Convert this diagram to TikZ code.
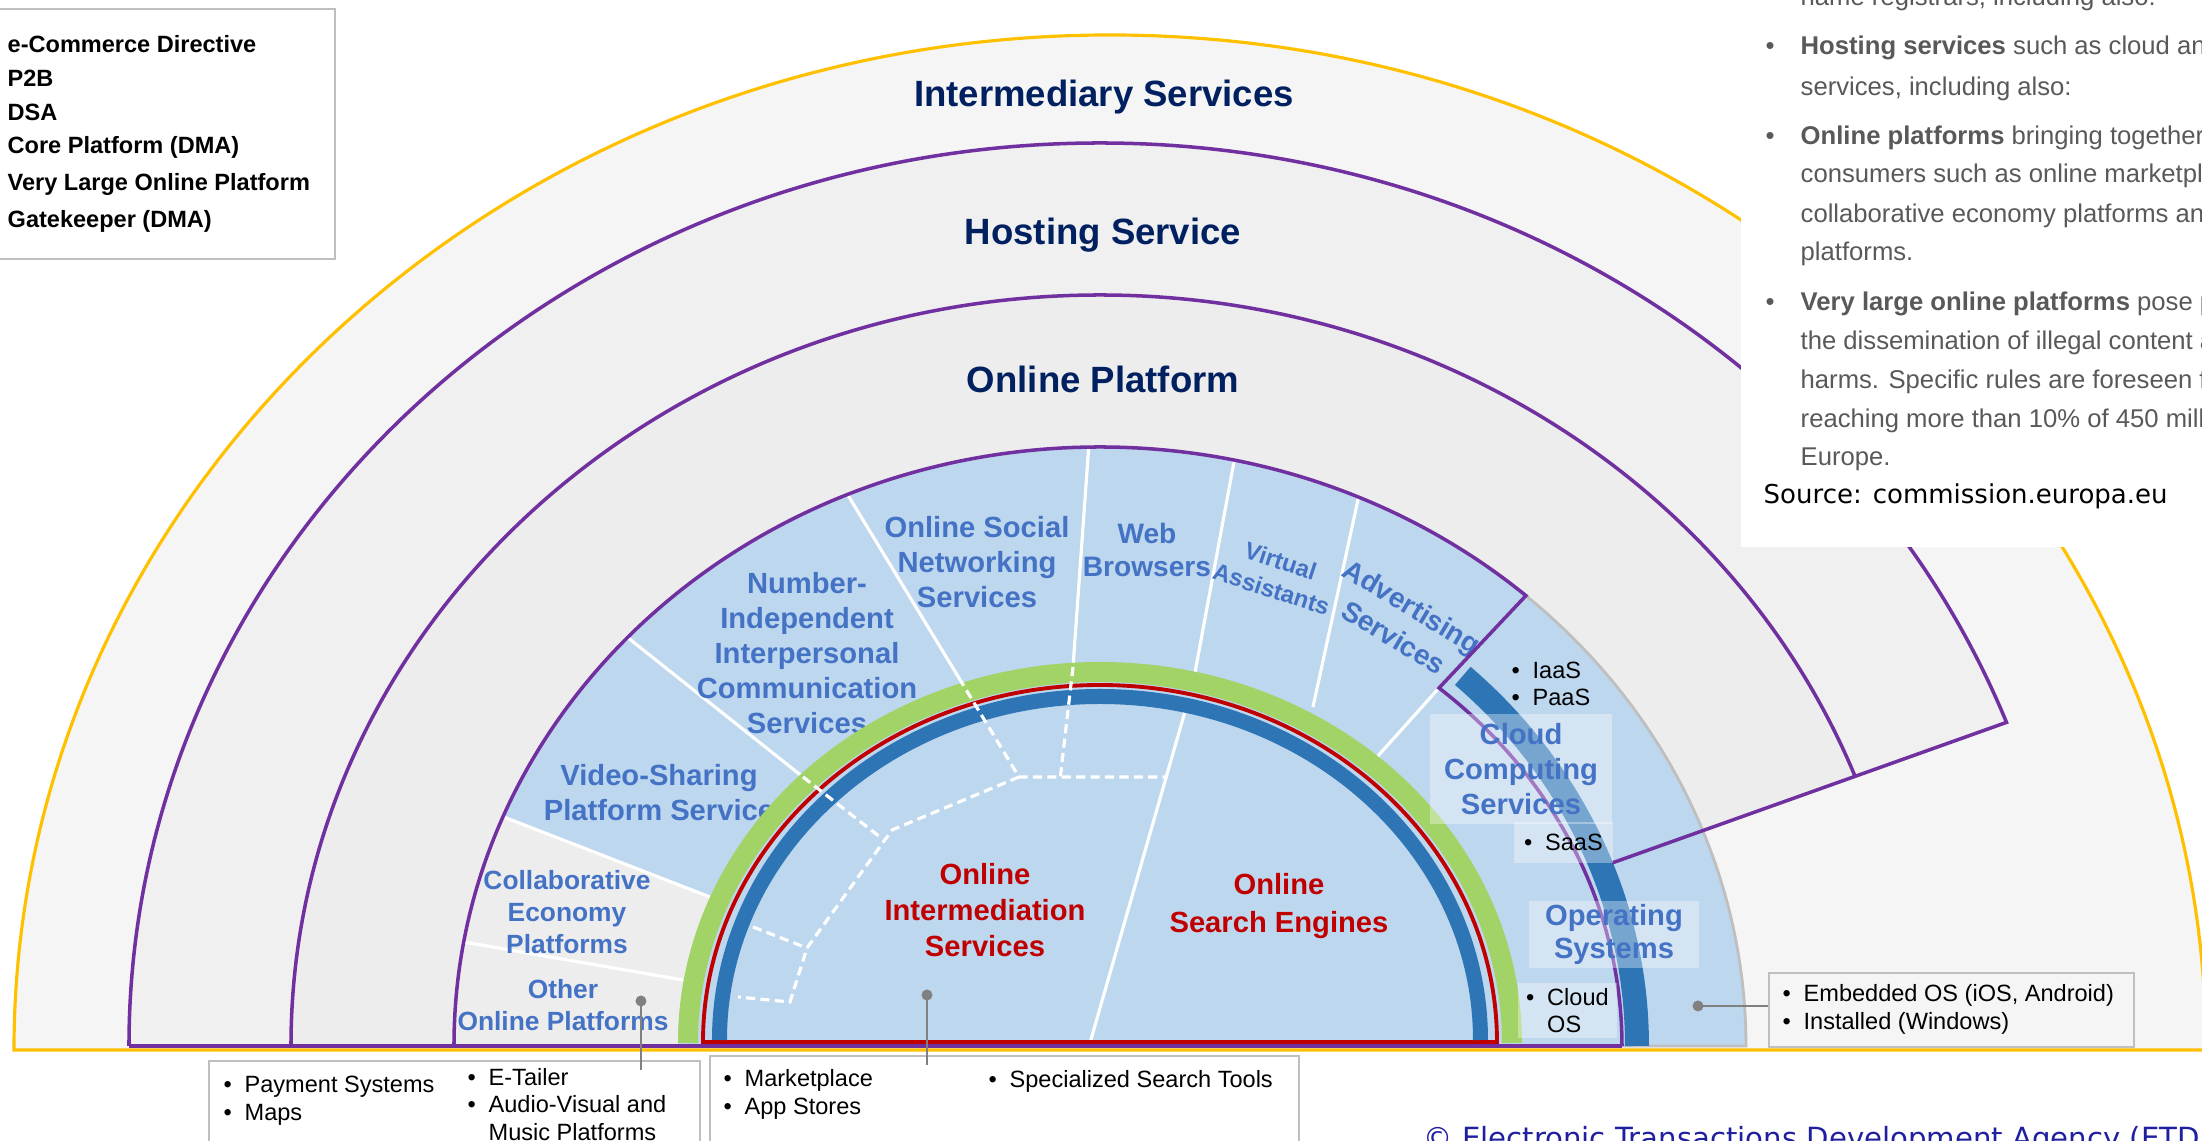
\documentclass[tikz,border=0pt]{standalone}
\usepackage{fontspec}
\setmainfont{Liberation Sans}
\newfontfamily\srcfont{DejaVu Sans}
\usetikzlibrary{positioning}

\definecolor{gold}{HTML}{FFC000}
\definecolor{dsapurple}{HTML}{7030A0}
\definecolor{p2bred}{HTML}{C00000}
\definecolor{coreblue}{HTML}{2E75B6}
\definecolor{gkgreen}{HTML}{A2D366}
\definecolor{skyfill}{HTML}{BDD7EE}
\definecolor{lblblue}{HTML}{4472C4}
\definecolor{navy}{HTML}{002060}
\definecolor{bandone}{HTML}{F5F5F5}
\definecolor{bandtwo}{HTML}{F0F0F0}
\definecolor{bandthree}{HTML}{EDEDED}
\definecolor{rimgrey}{HTML}{BFBFBF}
\definecolor{pingrey}{HTML}{808080}
\definecolor{txtgrey}{HTML}{595959}
\definecolor{etdablue}{HTML}{1F1FA0}

\newcommand{\bul}{\makebox[2.1mm][l]{\textbullet}}
\newcommand{\qbul}{\makebox[3.5mm][l]{\textbullet}}

\tikzset{
	head/.style={text=navy,font=\fontsize{10.4}{12}\selectfont\bfseries,inner sep=0,anchor=base},
	sector/.style={text=lblblue,font=\fontsize{8.3}{10}\selectfont\bfseries,align=center,inner sep=0},
	sectorsmall/.style={text=lblblue,font=\fontsize{7.5}{9}\selectfont\bfseries,align=center,inner sep=0},
	core/.style={text=p2bred,font=\fontsize{8.3}{10.2}\selectfont\bfseries,align=center,inner sep=0},
	sepline/.style={white,line width=0.9pt},
	dashsep/.style={white,line width=0.9pt,dash pattern=on 2.6pt off 1.5pt},
	glass/.style={fill=white,fill opacity=0.35,text opacity=1,inner sep=0},
	item/.style={font=\fontsize{6.7}{7.9}\selectfont,align=left,inner sep=0},
	listbox/.style={draw=rimgrey,fill=white,line width=0.6pt,inner sep=0,anchor=north west},
	pin/.style={circle,fill=pingrey,inner sep=0,minimum size=1.1mm},
	pinline/.style={pingrey,line width=0.7pt},
	legend/.style={font=\fontsize{6.7}{10}\selectfont\bfseries,inner sep=0,anchor=west},
	quote/.style={text=txtgrey,font=\fontsize{7.3}{11}\selectfont,inner sep=0,anchor=west},
}

\begin{document}
\begin{tikzpicture}
	\useasboundingbox (-11.00,-0.95) rectangle (11.02,10.46);
	% bands
	\fill[bandone] (-10.86,-0.04) arc[start angle=180,end angle=0,x radius=10.96,y radius=10.15] -- cycle;
	\draw[gold,line width=0.9pt] (-10.86,-0.04) arc[start angle=180,end angle=0,x radius=10.96,y radius=10.15] -- cycle;
	\fill[bandtwo] (-9.71,0) arc[start angle=180,end angle=21,x radius=9.71,y radius=9.03] -- (5.12,1.83) -- (5.49,0) -- cycle;
	\fill[bandthree] (-8.09,0) arc[start angle=180,end angle=21,x radius=8.09,y radius=7.51] -- (5.12,1.83) -- (5.49,0) -- cycle;
	\fill[skyfill] (-6.46,0) arc[start angle=180,end angle=0,x radius=6.46,y radius=5.99] -- cycle;
	\fill[bandthree] (-6.46,0) arc[start angle=180,end angle=157.5,x radius=6.46,y radius=5.99] -- (-3.90,1.49) -- (-3.90,0) -- cycle;

	\node[head] (inter) at (0.04,9.39) {Intermediary Services};
	\node[head] (host) at (0.03,8.01) {Hosting Service};
	\node[head] (platf) at (0.03,6.535) {Online Platform};

	% sector borders
	\draw[sepline] (170:6.46 and 5.99) -- (-4.17,0.66);
	\draw[sepline] (157.5:6.46 and 5.99) -- (-3.90,1.49);
	\draw[sepline] (137:6.46 and 5.99) -- (-2.97,2.69);
	\draw[sepline] (113:6.46 and 5.99) -- (-1.41,3.68);
	\draw[sepline] (91:6.46 and 5.99) -- (-0.27,3.79);
	\draw[sepline] (78:6.46 and 5.99) -- (0.94,3.68);
	\draw[sepline] (66.4:6.46 and 5.99) -- (2.13,3.39);
	\draw[sepline] (3.39,3.58) -- (2.77,2.89);

	\node[sectorsmall] (other) at (-5.37,0.41) {Other\\Online Platforms};
	\node[sectorsmall] (collab) at (-5.33,1.34) {Collaborative\\Economy\\Platforms};
	\node[sector] (video) at (-4.41,2.53) {Video-Sharing\\Platform Service};
	\node[sector] (nics) at (-2.93,3.93) {Number-\\Independent\\Interpersonal\\Communication\\Services};
	\node[sector] (social) at (-1.23,4.84) {Online Social\\Networking\\Services};
	\node[sector,font=\fontsize{8}{9.6}\selectfont\bfseries] (web) at (0.47,4.96) {Web\\Browsers};
	\node[sector,font=\fontsize{6.8}{8.5}\selectfont\bfseries,rotate=-18] (virt) at (1.76,4.71) {Virtual\\Assistants};
	\node[sector,font=\fontsize{8}{10.2}\selectfont\bfseries,rotate=-31] (adv) at (3.03,4.24) {Advertising\\Services};

	% core platform half disc
	\fill[skyfill] (-4.22,0) arc[start angle=180,end angle=0,x radius=4.22,y radius=3.81] -- cycle;
	\draw[sepline] (0.86,3.38) -- (-0.10,0.03);
	\draw[gkgreen,line width=0.20cm] (-4.12,0.03) arc[start angle=180,end angle=0,x radius=4.12,y radius=3.71];
	\draw[p2bred,line width=1.1pt] (-3.97,0.04) arc[start angle=180,end angle=0,x radius=3.97,y radius=3.57] -- cycle;
	\draw[coreblue,line width=0.15cm] (-3.805,0.06) arc[start angle=180,end angle=0,x radius=3.805,y radius=3.435];
	\draw[dashsep] (-1.41,3.68) -- (-0.81,2.69) -- (0.66,2.69);
	\draw[dashsep] (-0.27,3.79) -- (-0.40,2.66);
	\draw[dashsep] (-0.81,2.69) -- (-2.08,2.16) -- (-2.93,0.98) -- (-3.10,0.44) -- (-3.62,0.49);
	\draw[dashsep] (-2.97,2.69) -- (-2.20,2.09);
	\draw[dashsep] (-3.47,1.19) -- (-2.93,0.98);

	\node[core] (oims) at (-1.15,1.36) {Online\\Intermediation\\Services};
	\node[core,font=\fontsize{8.3}{10.7}\selectfont\bfseries] (ose) at (1.79,1.40) {Online\\Search Engines};

	% cloud and operating systems
	\draw[rimgrey,line width=0.8pt] (48.75:6.46 and 5.99) arc[start angle=48.75,end angle=0,x radius=6.46,y radius=5.99] -- (5.22,0);
	\draw[dsapurple,line width=1pt] (-6.46,0) arc[start angle=180,end angle=48.75,x radius=6.46,y radius=5.99] -- (3.39,3.58) arc[start angle=49.5,end angle=0,x radius=5.22,y radius=4.71];
	\draw[coreblue,line width=0.24cm] (5.37,0) arc[start angle=0,end angle=47.5,x radius=5.37,y radius=5.02];
	\draw[dsapurple,line width=1pt] (-9.71,0) arc[start angle=180,end angle=21,x radius=9.71,y radius=9.03] -- (5.12,1.83);
	\draw[dsapurple,line width=1pt] (-8.09,0) arc[start angle=180,end angle=21,x radius=8.09,y radius=7.51];
	\draw[dsapurple,line width=1.1pt] (-9.71,0) -- (5.22,0);

	\node[item,anchor=west] (iaas) at (4.11,3.62) {\bul IaaS\\\bul PaaS};
	\node[glass,minimum width=1.82cm,minimum height=1.10cm,sector] (cloud) at (4.21,2.77) {Cloud\\Computing\\Services};
	\node[glass,minimum width=0.99cm,minimum height=0.41cm,item] (saas) at (4.635,2.035) {\bul SaaS};
	\node[glass,minimum width=1.70cm,minimum height=0.67cm,sector,font=\fontsize{8.3}{9.6}\selectfont\bfseries] (opsys) at (5.14,1.115) {Operating\\Systems};
	\node[glass,minimum width=0.99cm,minimum height=0.55cm,item] (cloudos) at (4.675,0.355) {\bul Cloud\\\hspace*{2.1mm}OS};

	% example lists
	\node[listbox,minimum width=4.91cm,minimum height=1.2cm] (leftbox) at (-8.92,-0.14) {};
	\node[listbox,minimum width=5.89cm,minimum height=1.2cm] (midbox) at (-3.91,-0.09) {};
	\node[listbox,fill=bandone,minimum width=3.65cm,minimum height=0.74cm] (osbox) at (6.68,0.74) {};
	\node[item,anchor=west] (paylist) at (-8.77,-0.55) {\bul Payment Systems\\\bul Maps};
	\node[item,anchor=west] (taillist) at (-6.33,-0.585) {\bul E-Tailer\\\bul Audio-Visual and\\\hspace*{2.1mm}Music Platforms};
	\node[item,anchor=west] (marklist) at (-3.77,-0.485) {\bul Marketplace\\\bul App Stores};
	\node[item,anchor=west] (searchlist) at (-1.12,-0.35) {\bul Specialized Search Tools};
	\node[item,anchor=west] (oslist) at (6.82,0.365) {\bul Embedded OS (iOS, Android)\\\bul Installed (Windows)};

	\node[pin] (otherpin) at (-4.59,0.45) {};
	\node[pin] (oimspin) at (-1.73,0.51) {};
	\node[pin] (ospin) at (5.98,0.40) {};
	\coordinate (otherend) at (-4.59,-0.24);
	\coordinate (oimsend) at (-1.73,-0.19);
	\draw[pinline] (otherpin.center) -- (otherend);
	\draw[pinline] (oimspin.center) -- (oimsend);
	\draw[pinline] (ospin.center) -- (ospin -| osbox.west);

	% legend
	\node[draw=rimgrey,fill=white,line width=0.6pt,anchor=north west,minimum width=3.39cm,minimum height=2.50cm] (legbox) at (-11.05,10.38) {};
	\node[legend] (ecd) at (-10.93,10.02) {e-Commerce Directive};
	\node[legend] (ptb) at (-10.93,9.68) {P2B};
	\node[legend] (dsa) at (-10.93,9.34) {DSA};
	\node[legend] (cpd) at (-10.93,8.99) {Core Platform (DMA)};
	\node[legend] (vlop) at (-10.93,8.62) {Very Large Online Platform};
	\node[legend] (gate) at (-10.93,8.25) {Gatekeeper (DMA)};

	% quoted source text
	\fill[white] (6.41,4.99) rectangle (11.10,10.60);
	\node[quote] (q0) at (7.00,10.47) {name registrars, including also:};
	\node[quote] (q1) at (6.65,9.98) {\qbul\textbf{Hosting services} such as cloud an};
	\node[quote] (q2) at (7.00,9.57) {services, including also:};
	\node[quote] (q3) at (6.65,9.085) {\qbul\textbf{Online platforms} bringing together};
	\node[quote] (q4) at (7.00,8.70) {consumers such as online marketpl};
	\node[quote] (q5) at (7.00,8.30) {collaborative economy platforms an};
	\node[quote] (q6) at (7.00,7.92) {platforms.};
	\node[quote] (q7) at (6.65,7.42) {\qbul\textbf{Very large online platforms} pose p};
	\node[quote] (q8) at (7.00,7.03) {the dissemination of illegal content a};
	\node[quote] (q9) at (7.00,6.64) {harms. Specific rules are foreseen f};
	\node[quote] (q10) at (7.00,6.25) {reaching more than 10\% of 450 mill};
	\node[quote] (q11) at (7.00,5.87) {Europe.};
	\node[anchor=west,inner sep=0,font=\srcfont\fontsize{7.4}{9}\selectfont] (src) at (6.63,5.50) {Source: commission.europa.eu};

	\node[anchor=base west,inner sep=0,text=etdablue,font=\srcfont\fontsize{8.3}{10}\selectfont] (etda) at (3.23,-1.03) {© Electronic Transactions Development Agency (ETD};
\end{tikzpicture}
\end{document}
